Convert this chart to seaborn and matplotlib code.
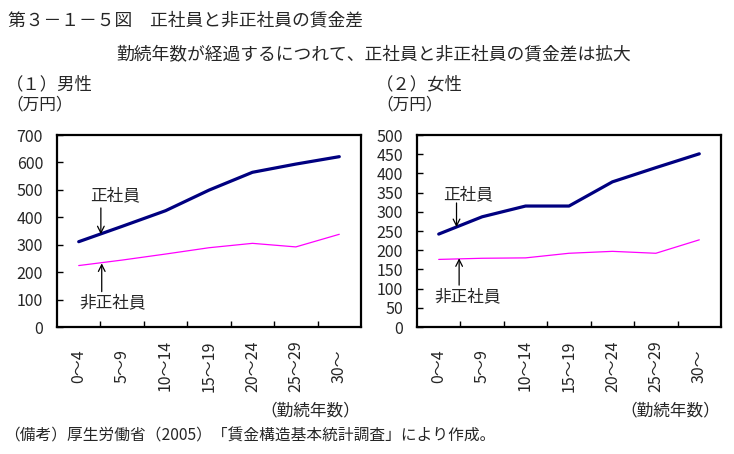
import matplotlib
matplotlib.use("Agg")
import matplotlib.pyplot as plt
import seaborn as sns
import pandas as pd

categories = ["0～4", "5～9", "10～14", "15～19", "20～24", "25～29", "30～"]
male_regular = [311, 367, 424, 499, 564, 594, 621]
male_nonregular = [224, 244, 266, 289, 305, 292, 338]
female_regular = [242, 287, 315, 315, 378, 415, 451]
female_nonregular = [176, 179, 180, 192, 197, 192, 227]
male_yticks = [0, 100, 200, 300, 400, 500, 600, 700]
female_yticks = [0, 50, 100, 150, 200, 250, 300, 350, 400, 450, 500]

sns.set_theme(style="white")
JP = ["Noto Sans CJK JP", "DejaVu Sans"]
plt.rcParams["font.family"] = JP

fig = plt.figure(figsize=(7.34, 4.54), dpi=100)
W, H = 734, 454


def ax_at(x0, y0, x1, y1):
    return fig.add_axes([x0 / W, 1 - y1 / H, (x1 - x0) / W, (y1 - y0) / H])


axL = ax_at(57, 135, 361, 327)
axR = ax_at(417, 135, 721, 327)

specs = [
    (axL, male_regular, male_nonregular, male_yticks, 700,
     dict(t1=(0.84, 478), a1=((0.51, 434), (0.51, 338)),
          t2=(0.79, 89), a2=((0.53, 129), (0.53, 232)))),
    (axR, female_regular, female_nonregular, female_yticks, 500,
     dict(t1=(0.67, 344), a1=((0.41, 323), (0.41, 260)),
          t2=(0.67, 79), a2=((0.47, 109), (0.47, 179)))),
]

for ax, reg, nonreg, yt, ymax, ann in specs:
    df = pd.DataFrame({
        "cat": list(range(len(categories))) * 2,
        "val": reg + nonreg,
        "kind": ["正社員"] * len(reg) + ["非正社員"] * len(nonreg),
    })
    sns.lineplot(data=df[df.kind == "正社員"], x="cat", y="val", ax=ax,
                 color="#000080", linewidth=2.3, legend=False)
    sns.lineplot(data=df[df.kind == "非正社員"], x="cat", y="val", ax=ax,
                 color="#FF00FF", linewidth=0.9, legend=False)
    ax.set_xlim(-0.5, len(categories) - 0.5)
    ax.set_ylim(0, ymax)
    ax.set_yticks(yt)
    ax.set_yticklabels([str(v) for v in yt], fontsize=11.5, family=JP)
    ax.set_xticks(range(len(categories)))
    ax.set_xticklabels(categories, rotation=90, va="center", ha="center",
                       fontsize=11.5, family=JP)
    ax.set_xticks([i + 0.5 for i in range(len(categories) - 1)], minor=True)
    ax.tick_params(axis="x", which="major", length=0, pad=28)
    ax.tick_params(axis="x", which="minor", direction="in", length=4,
                   width=1, color="black", bottom=True)
    ax.tick_params(axis="y", direction="in", length=4, width=1,
                   color="black", left=True, pad=10)
    ax.set_xlabel("")
    ax.set_ylabel("")
    for s in ax.spines.values():
        s.set_color("black")
        s.set_linewidth(1.6)
    ax.annotate("正社員", xy=ann["t1"], ha="center", va="center",
                fontsize=12, family=JP)
    ax.annotate("", xy=ann["a1"][1], xytext=ann["a1"][0],
                arrowprops=dict(arrowstyle="->", color="black", lw=0.9,
                                shrinkA=0, shrinkB=0))
    ax.annotate("非正社員", xy=ann["t2"], ha="center", va="center",
                fontsize=12, family=JP)
    ax.annotate("", xy=ann["a2"][1], xytext=ann["a2"][0],
                arrowprops=dict(arrowstyle="->", color="black", lw=0.9,
                                shrinkA=0, shrinkB=0))


def ftext(x, y, s, size=10, ha="left"):
    fig.text(x / W, 1 - y / H, s, fontsize=size, ha=ha, va="center", family=JP)


ftext(8, 20, "第３－１－５図　正社員と非正社員の賃金差", 12.8)
ftext(374, 55, "勤続年数が経過するにつれて、正社員と非正社員の賃金差は拡大", 12.8, "center")
ftext(6, 84, "（１）男性", 12.5)
ftext(6, 105, "（万円）", 12)
ftext(376, 84, "（２）女性", 12.5)
ftext(376, 105, "（万円）", 12)
ftext(360, 411, "（勤続年数）", 12, "right")
ftext(720, 411, "（勤続年数）", 12, "right")
ftext(4, 436, "（備考）厚生労働省（2005）「賃金構造基本統計調査」により作成。", 11.3)

fig.savefig("out.png", dpi=100)
